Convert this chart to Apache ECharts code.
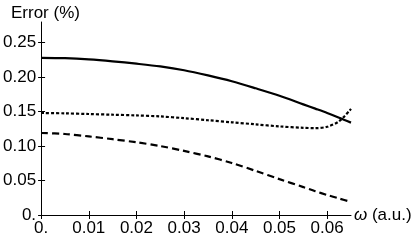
<!DOCTYPE html>
<html>
<head>
<meta charset="utf-8">
<script src="https://cdn.jsdelivr.net/npm/echarts@6/dist/echarts.min.js"></script>
<style>
  html, body { margin: 0; padding: 0; background: #fff; }
  #chart { width: 415px; height: 240px; }
</style>
</head>
<body>
<div id="chart"></div>
<script>
// omega (a.u.)
var omega = [0, 0.005, 0.01, 0.015, 0.02, 0.025, 0.03, 0.035, 0.04, 0.045, 0.05, 0.055, 0.0575, 0.06, 0.0625, 0.065];
// error (%) for the three curves
var errSolid = [0.228, 0.2275, 0.2258, 0.223, 0.2195, 0.2155, 0.210, 0.2025, 0.194, 0.1838, 0.173, 0.1605, 0.1543, 0.148, 0.1412, 0.134];
var errDotted = [0.148, 0.1475, 0.1465, 0.1455, 0.1445, 0.143, 0.1405, 0.1375, 0.1345, 0.1315, 0.1285, 0.1265, 0.126, 0.128, 0.136, 0.154];
var errDashed = [0.119, 0.1175, 0.114, 0.110, 0.1055, 0.100, 0.093, 0.085, 0.0755, 0.064, 0.052, 0.0405, 0.0345, 0.029, 0.024, 0.019];
// tick values
var xTicks = [0, 0.01, 0.02, 0.03, 0.04, 0.05, 0.06];
var yTicks = [0, 0.05, 0.10, 0.15, 0.20, 0.25];

function pairs(ys) {
  var out = [];
  for (var i = 0; i < omega.length; i++) out.push([omega[i], ys[i]]);
  return out;
}
function fmt(v) {
  if (v === 0) return '0.';
  return v.toFixed(2);
}

var font = 'Liberation Sans, Arial, sans-serif';
var fs = 17;
var chart = echarts.init(document.getElementById('chart'));

var xBase = {
  type: 'value', min: 0, max: 0.065,
  splitLine: { show: false }
};
var yBase = {
  type: 'value', min: 0, max: 0.28,
  splitLine: { show: false }
};

chart.setOption({
  animation: false,
  title: {
    text: 'Error (%)', left: 6, top: 0,
    textStyle: { fontFamily: font, fontSize: fs, fontWeight: 'normal', color: '#000' }
  },
  grid: { left: 40, right: 64, top: 22, bottom: 25, containLabel: false },
  xAxis: [
    Object.assign({}, xBase, {
      name: '{i|ω} (a.u.)',
      nameLocation: 'end',
      nameGap: 3,
      nameTextStyle: {
        fontFamily: font, fontSize: fs, color: '#000',
        rich: { i: { fontFamily: font, fontSize: fs, fontStyle: 'italic', color: '#000' } }
      },
      axisLine: { lineStyle: { color: '#000', width: 1 } },
      axisTick: { length: 4, customValues: xTicks, lineStyle: { color: '#000' } },
      axisLabel: {
        customValues: xTicks, formatter: fmt, margin: 5,
        fontFamily: font, fontSize: fs, color: '#000'
      }
    }),
    Object.assign({}, xBase, {
      position: 'bottom',
      axisLine: { show: false },
      axisTick: { inside: true, length: 4, customValues: xTicks, lineStyle: { color: '#000' } },
      axisLabel: { show: false }
    })
  ],
  yAxis: [
    Object.assign({}, yBase, {
      axisLine: { show: true, lineStyle: { color: '#000', width: 1 } },
      axisTick: { show: true, length: 3, customValues: yTicks, lineStyle: { color: '#000' } },
      axisLabel: {
        customValues: yTicks, formatter: fmt, margin: 5,
        fontFamily: font, fontSize: fs, color: '#000'
      }
    }),
    Object.assign({}, yBase, {
      position: 'left',
      axisLine: { show: false },
      axisTick: { show: true, inside: true, length: 4, customValues: yTicks, lineStyle: { color: '#000' } },
      axisLabel: { show: false }
    })
  ],
  series: [
    {
      type: 'line', data: pairs(errSolid), smooth: 0.3, symbol: 'none',
      lineStyle: { color: '#000', width: 2.2 }
    },
    {
      type: 'line', data: pairs(errDotted), smooth: 0.3, symbol: 'none',
      lineStyle: { color: '#000', width: 2.2, type: [3, 2] }
    },
    {
      type: 'line', data: pairs(errDashed), smooth: 0.3, symbol: 'none',
      lineStyle: { color: '#000', width: 2.2, type: [7, 4] }
    }
  ]
});
</script>
</body>
</html>
